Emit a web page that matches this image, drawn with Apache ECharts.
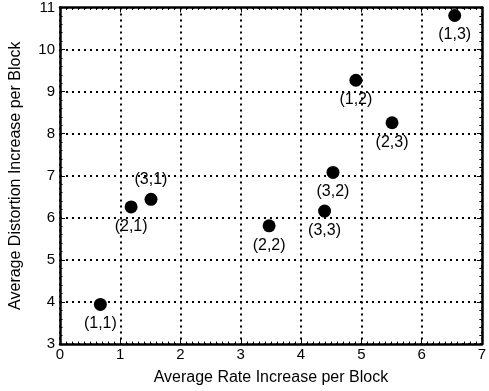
<!DOCTYPE html>
<html>
<head>
<meta charset="utf-8">
<script src="https://cdn.jsdelivr.net/npm/echarts@6/dist/echarts.min.js"></script>
<style>
html,body{margin:0;padding:0;background:#fff;}
#chart{width:489px;height:391px;}
</style>
</head>
<body>
<div id="chart"></div>
<script>
// Data
const rateIncrease = [0.67, 1.18, 1.51, 3.47, 4.39, 4.53, 5.51, 4.91, 6.55];
const distortionIncrease = [3.94, 6.26, 6.44, 5.81, 6.16, 7.08, 8.26, 9.27, 10.81];
const pointLabels = ['(1,1)', '(2,1)', '(3,1)', '(2,2)', '(3,3)', '(3,2)', '(2,3)', '(1,2)', '(1,3)'];
const labelAbove = ['(3,1)'];
const xTicks = [0, 1, 2, 3, 4, 5, 6, 7];
const yTicks = [3, 4, 5, 6, 7, 8, 9, 10, 11];

const FONT = 'Liberation Sans, Arial, Helvetica, sans-serif';

const data = rateIncrease.map((x, i) => ({
  value: [x, distortionIncrease[i]],
  name: pointLabels[i],
  label: { position: labelAbove.includes(pointLabels[i]) ? 'top' : 'bottom' }
}));

const gridLine = { show: true, lineStyle: { color: '#000', width: 2, type: [2, 4], opacity: 1 } };
const frameLine = { show: true, onZero: false, lineStyle: { color: '#000', width: 2.5 } };
const tick = { show: true, inside: true, length: 5, lineStyle: { color: '#000', width: 1 } };
const minor = (n) => ({ show: true, splitNumber: n, length: 2.5, lineStyle: { color: '#000', width: 1 } });

const chart = echarts.init(document.getElementById('chart'), null, { renderer: 'canvas' });
chart.setOption({
  animation: false,
  backgroundColor: '#fff',
  grid: { left: 59, right: 2, top: 7, bottom: 45, containLabel: false },
  xAxis: [{
    type: 'value', min: xTicks[0], max: xTicks[xTicks.length - 1], interval: 1,
    name: 'Average Rate Increase per Block', nameLocation: 'middle', nameGap: 26,
    nameTextStyle: { fontFamily: FONT, fontSize: 16, color: '#000' },
    axisLine: frameLine, axisTick: tick, minorTick: minor(10),
    axisLabel: { fontFamily: FONT, fontSize: 15, color: '#000', margin: 3 },
    splitLine: gridLine
  }, {
    type: 'value', position: 'top', min: xTicks[0], max: xTicks[xTicks.length - 1], interval: 1,
    axisLine: frameLine, axisTick: tick, minorTick: minor(10),
    axisLabel: { show: false }, splitLine: { show: false }
  }],
  yAxis: [{
    type: 'value', min: yTicks[0], max: yTicks[yTicks.length - 1], interval: 1,
    name: 'Average Distortion Increase per Block', nameLocation: 'middle', nameGap: 36,
    nameTextStyle: { fontFamily: FONT, fontSize: 16, color: '#000' },
    axisLine: frameLine, axisTick: tick, minorTick: minor(5),
    axisLabel: { fontFamily: FONT, fontSize: 15, color: '#000', margin: 5 },
    splitLine: gridLine
  }, {
    type: 'value', position: 'right', min: yTicks[0], max: yTicks[yTicks.length - 1], interval: 1,
    axisLine: frameLine, axisTick: tick, minorTick: minor(5),
    axisLabel: { show: false }, splitLine: { show: false }
  }],
  series: [{
    type: 'scatter',
    symbol: 'circle', symbolSize: 13,
    itemStyle: { color: '#000', opacity: 1 },
    label: {
      show: true, formatter: '{b}', distance: 5,
      fontFamily: FONT, fontSize: 16, color: '#000', opacity: 1
    },
    data: data
  }]
});
</script>
</body>
</html>
